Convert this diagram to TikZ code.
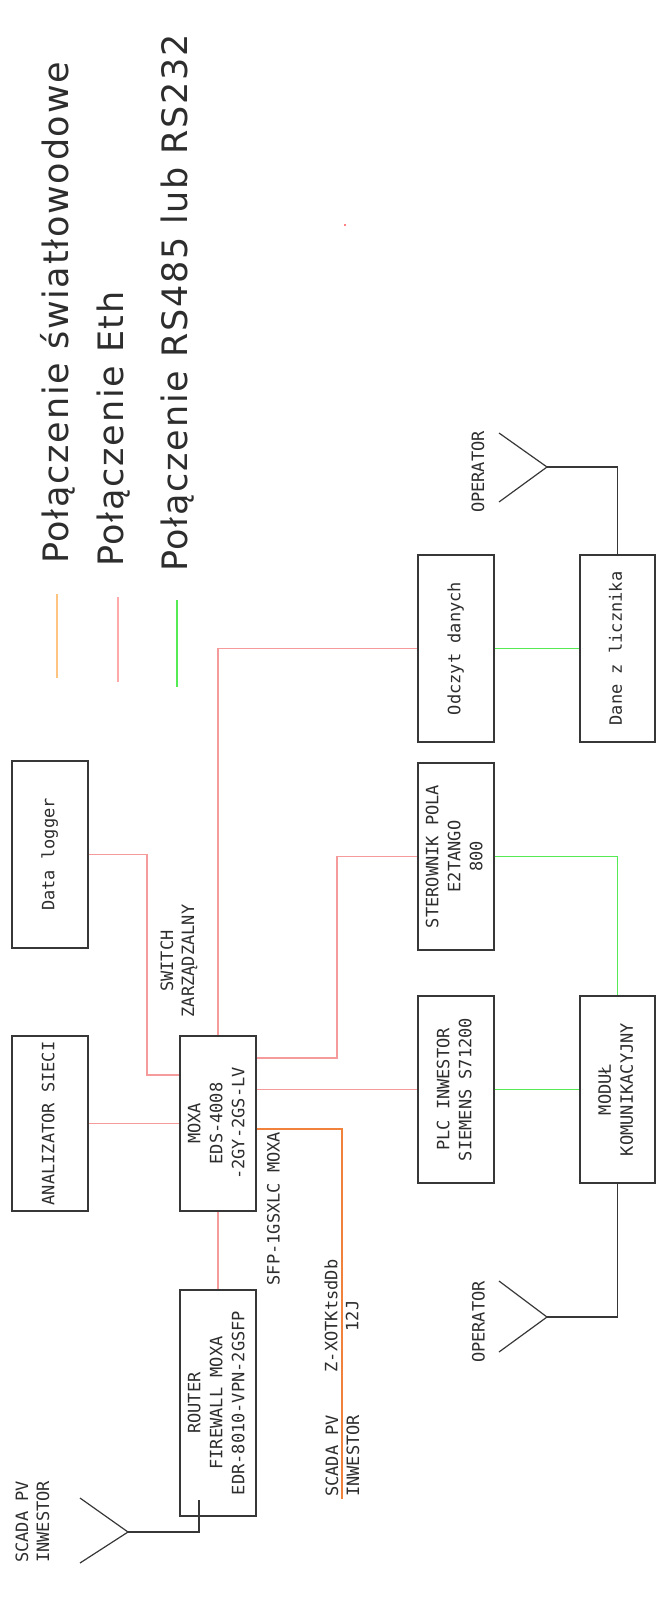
\documentclass[tikz,border=0pt]{standalone}
\usepackage{fontspec}
\usepackage{graphicx}
\newfontfamily\cadfont{DejaVu Sans Mono}
\newfontfamily\legfont{DejaVu Sans}[LetterSpace=5]
\definecolor{boxc}{RGB}{55,55,55}
\definecolor{txtc}{RGB}{45,45,45}
\definecolor{ethc}{RGB}{245,155,155}
\definecolor{fibc}{RGB}{240,130,60}
\definecolor{rsc}{RGB}{85,235,85}
\definecolor{legor}{RGB}{255,195,130}
\definecolor{legpk}{RGB}{255,170,170}
\newcommand{\rottext}[1]{\rotatebox{90}{\begin{tabular}{@{}c@{}}#1\end{tabular}}}
\begin{document}
\begin{tikzpicture}[x=1pt,y=-1pt,
  box/.style={draw=boxc, line width=1.2pt, inner sep=0pt, rectangle,
    font=\cadfont\fontsize{17}{22}\selectfont, text=txtc},
  lbl/.style={rotate=90, inner sep=0pt, align=center,
    font=\cadfont\fontsize{17}{21}\selectfont, text=txtc},
  lbll/.style={rotate=90, inner sep=0pt, align=left, anchor=west,
    font=\cadfont\fontsize{17}{21}\selectfont, text=txtc},
  leg/.style={rotate=90, inner sep=0pt, anchor=base west,
    font=\legfont\fontsize{35}{40}\selectfont, text=txtc},
  eth/.style={draw=ethc, line width=1.3pt},
  fib/.style={draw=fibc, line width=1.3pt},
  rs/.style={draw=rsc, line width=1.3pt},
  blk/.style={draw=boxc, line width=1.2pt}]
\useasboundingbox (0,0) rectangle (656,1611);

% legend
\draw[legor, line width=1.5pt] (57,594) -- (57,678);
\draw[legpk, line width=1.5pt] (118,597) -- (118,682);
\draw[rsc, line width=1.5pt] (177,600) -- (177,687);
\node[leg] (leg1) at (68,564) {Połączenie światłowodowe};
\node[leg] (leg2) at (123,567) {Połączenie Eth};
\node[leg] (leg3) at (187,572) {Połączenie RS485 lub RS232};
\fill[red] (345,225) circle (0.9);

% boxes
\node[box, minimum width=76, minimum height=187] (dl) at (50,854.5) {\rottext{Data logger}};
\node[box, minimum width=76, minimum height=175] (anal) at (50,1123.5) {\rottext{ANALIZATOR SIECI}};
\node[box, minimum width=76, minimum height=175] (moxa) at (218,1123.5) {\rottext{MOXA\\EDS-4008\\-2GY-2GS-LV}};
\node[box, minimum width=76, minimum height=226] (router) at (218,1403) {\rottext{ROUTER\\FIREWALL MOXA\\EDR-8010-VPN-2GSFP}};
\node[box, minimum width=76, minimum height=187] (odczyt) at (456,648.5) {\rottext{Odczyt danych}};
\node[box, minimum width=76, minimum height=187] (ster) at (456,856.5) {\rottext{STEROWNIK POLA\\E2TANGO\\800}};
\node[box, minimum width=76, minimum height=187] (plc) at (456,1089.5) {\rottext{PLC INWESTOR\\SIEMENS S71200}};
\node[box, minimum width=75, minimum height=187] (dane) at (617.5,648.5) {\rottext{Dane z licznika}};
\node[box, minimum width=75, minimum height=187] (modul) at (617.5,1089.5) {\rottext{MODUŁ\\KOMUNIKACYJNY}};

% free labels
\node[lbl] (sw) at (179,961) {SWITCH\\ZARZĄDZALNY};
\node[lbl] (sfp) at (273.5,1208.5) {SFP-1GSXLC MOXA};
\node[lbl] (cab) at (341.5,1316) {Z-XOTKtsdDb\\12J};
\node[lbll] (scada2) at (342.5,1497) {SCADA PV\\INWESTOR};
\node[lbll] (scada1) at (32.5,1563) {SCADA PV\\INWESTOR};
\node[lbl] (opt) at (478,472) {OPERATOR};
\node[lbl] (opb) at (478.5,1322) {OPERATOR};

% coordinates
\coordinate (c1) at (147,1075);
\coordinate (c2) at (337,1058);
\coordinate (c3) at (342,1129);
\coordinate (send) at (342,1499);
\coordinate (op1) at (547,467);
\coordinate (op2) at (547,1317);
\coordinate (op3) at (128,1532);
\coordinate (r1) at (199,1500);

% Ethernet
\draw[eth] (router.north) -- (moxa.south);
\draw[eth] (anal.east) -- (moxa.west);
\draw[eth] (dl.east) -| (c1) -- (c1 -| moxa.west);
\draw[eth] (moxa.north) |- (odczyt.west);
\draw[eth] (c2 -| moxa.east) -- (c2) |- (ster.west);
\draw[eth] (plc.west -| moxa.east) -- (plc.west);

% fibre
\draw[fib] (c3 -| moxa.east) -- (c3) -- (send);

% RS485
\draw[rs] (odczyt.east) -- (dane.west);
\draw[rs] (ster.east) -| (modul.north);
\draw[rs] (plc.east) -- (modul.west);

% operators / antennas
\draw[blk] (dane.north) |- (op1);
\draw[blk] (op1) -- ++(-48,-34);
\draw[blk] (op1) -- ++(-48,35);
\draw[blk] (modul.south) |- (op2);
\draw[blk] (op2) -- ++(-48,-36);
\draw[blk] (op2) -- ++(-48,35);
\draw[blk] (r1) |- (op3);
\draw[blk] (op3) -- ++(-48,-34);
\draw[blk] (op3) -- ++(-48,31);
\end{tikzpicture}
\end{document}
